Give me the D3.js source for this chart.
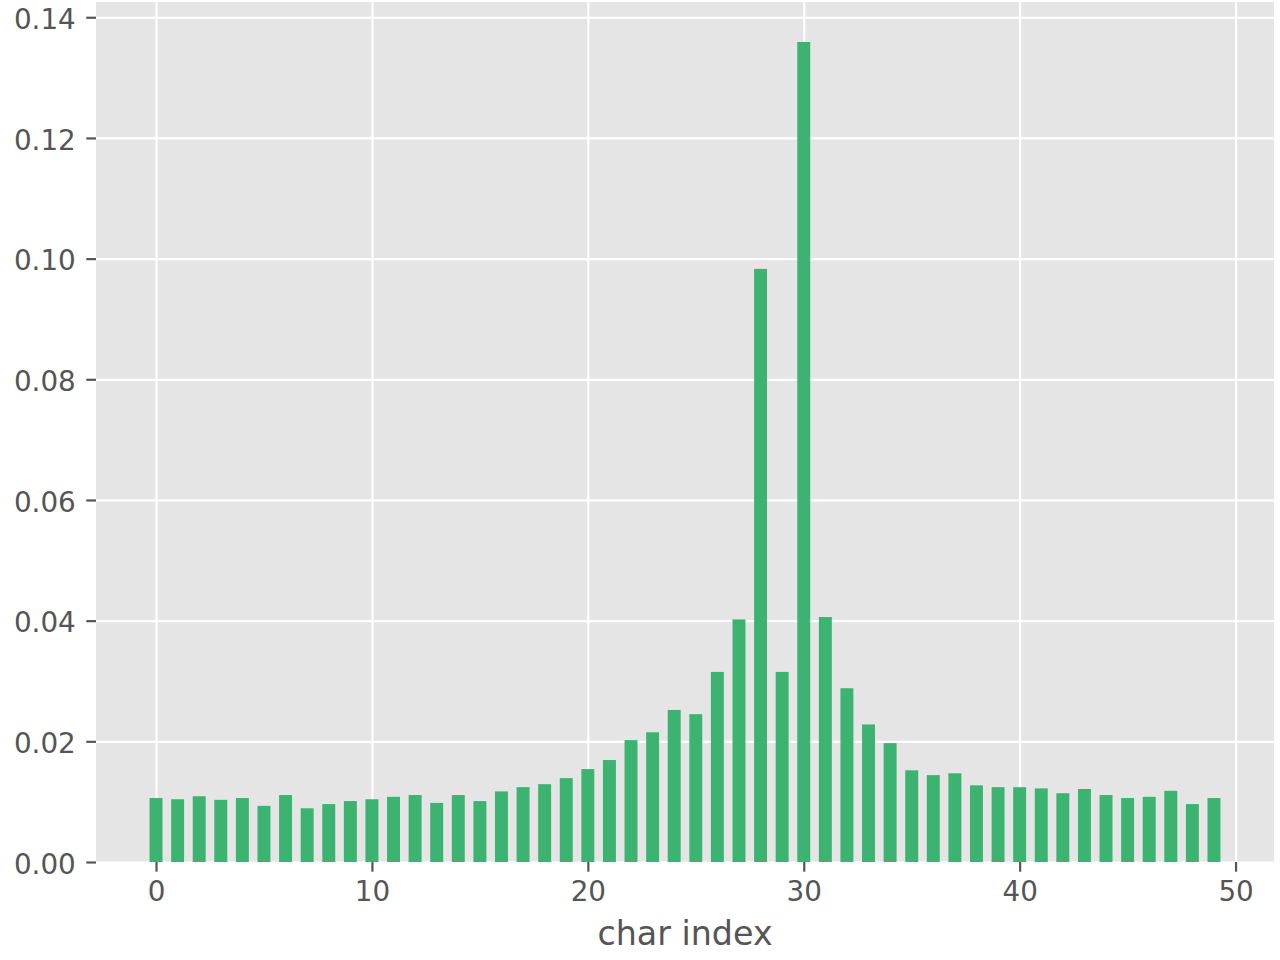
<!DOCTYPE html>
<html>
<head>
<meta charset="utf-8">
<script src="https://cdn.jsdelivr.net/npm/d3@7"></script>
<style>
  body { margin: 0; background: #ffffff; }
  svg { display: block; font-family: "DejaVu Sans", sans-serif; }
  .grid line { stroke: #ffffff; stroke-width: 2.2px; }
  .grid path { display: none; }
  .axis path { display: none; }
  .axis line { stroke: #555555; stroke-width: 2.2px; }
  .axis text { fill: #555555; font-size: 27.8px; font-family: "DejaVu Sans", sans-serif; }
</style>
</head>
<body>
<div id="chart"></div>
<script>

// bar values (index 0..49)
var char_index = d3.range(50);
var weights = [
	0.0106, 0.0104, 0.0109, 0.0103, 0.0106, 0.0093, 0.0111, 0.0089, 0.0096, 0.0101,
	0.0104, 0.0108, 0.0111, 0.0098, 0.0111, 0.0101, 0.0117, 0.0124, 0.0129, 0.0139,
	0.0154, 0.0169, 0.0202, 0.0215, 0.0252, 0.0245, 0.0315, 0.0402, 0.0983, 0.0315,
	0.1359, 0.0406, 0.0288, 0.0228, 0.0197, 0.0152, 0.0144, 0.0147, 0.0127, 0.0124,
	0.0124, 0.0122, 0.0114, 0.0121, 0.0111, 0.0106, 0.0108, 0.0118, 0.0096, 0.0106
];
var x_ticks = [0, 10, 20, 30, 40, 50];
var y_ticks = [0, 0.02, 0.04, 0.06, 0.08, 0.10, 0.12, 0.14];

var bar_width = 0.6;

function draw_chart(){
	var W = 1280, H = 960;
	var margin = {top: 1, right: 6, bottom: 98, left: 96};
	var width = W - margin.left - margin.right;
	var height = H - margin.top - margin.bottom;

	var svg = d3.select("#chart")
		.append("svg")
		.attr("width", W)
		.attr("height", H);

	var g = svg.append("g")
		.attr("transform", "translate(" + margin.left + "," + margin.top + ")");

	// matplotlib style 5% margins on x, top of y
	var lo = -bar_width / 2, hi = char_index.length - 1 + bar_width / 2;
	var pad = (hi - lo) * 0.05;
	var x = d3.scaleLinear().domain([lo - pad, hi + pad]).range([0, width]);
	var y = d3.scaleLinear().domain([0, d3.max(weights) * 1.05]).range([height, 0]);

	g.append("rect")
		.attr("y", 1)
		.attr("width", width)
		.attr("height", height - 1)
		.attr("fill", "#e5e5e5");

	// gridlines
	g.append("g")
		.attr("class", "grid")
		.attr("transform", "translate(0," + height + ")")
		.call(d3.axisBottom(x).tickValues(x_ticks).tickSize(-(height - 1)).tickFormat(""));
	g.append("g")
		.attr("class", "grid")
		.call(d3.axisLeft(y).tickValues(y_ticks).tickSize(-width).tickFormat(""));

	// bars
	g.selectAll(".bar")
		.data(weights)
		.enter().append("rect")
		.attr("class", "bar")
		.attr("x", function(d, i) { return x(char_index[i] - bar_width / 2); })
		.attr("width", function() { return x(bar_width) - x(0); })
		.attr("y", function(d) { return y(d); })
		.attr("height", function(d) { return height - y(d); })
		.attr("fill", "#3cb371");

	// x axis
	var xa = g.append("g")
		.attr("class", "axis")
		.attr("transform", "translate(0," + height + ")")
		.call(d3.axisBottom(x).tickValues(x_ticks).tickSize(9.7).tickPadding(9.7).tickFormat(d3.format("d")));
	xa.selectAll("text").attr("dy", "0.72em");

	// y axis
	var ya = g.append("g")
		.attr("class", "axis")
		.call(d3.axisLeft(y).tickValues(y_ticks).tickSize(9.7).tickPadding(10.5).tickFormat(d3.format(".2f")));
	ya.selectAll("text").attr("dy", "0.40em");

	svg.append("text")
		.attr("x", margin.left + width / 2)
		.attr("y", 945)
		.attr("text-anchor", "middle")
		.attr("fill", "#555555")
		.style("font-size", "33.3px")
		.text("char index");
}

window.onload = draw_chart;
</script>
</body>
</html>
